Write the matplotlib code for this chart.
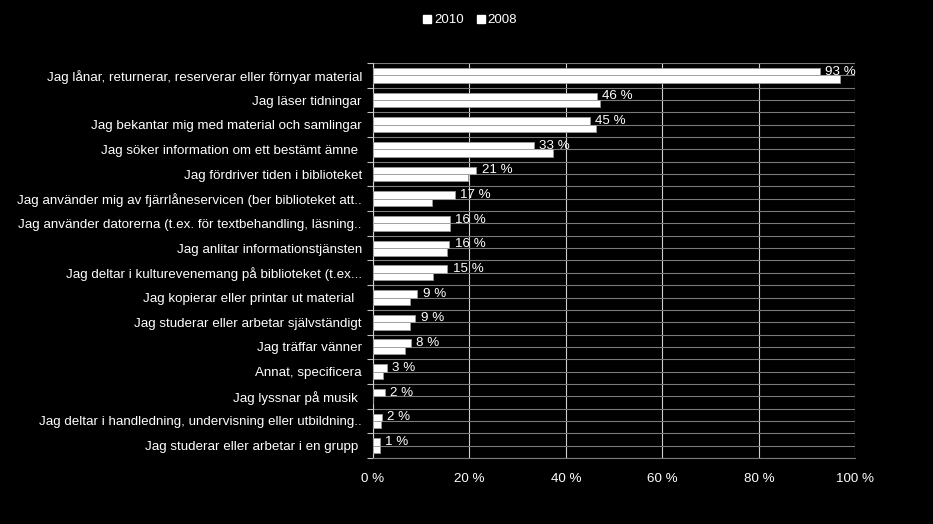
import matplotlib
matplotlib.use("Agg")
import matplotlib.pyplot as plt
from matplotlib.patches import Patch
import numpy as np

plt.rcParams['font.family'] = ['Liberation Sans', 'DejaVu Sans']

categories = [
    "Jag lånar, returnerar, reserverar eller förnyar material",
    "Jag läser tidningar",
    "Jag bekantar mig med material och samlingar",
    "Jag söker information om ett bestämt ämne ",
    "Jag fördriver tiden i biblioteket",
    "Jag använder mig av fjärrlåneservicen (ber biblioteket att..",
    "Jag använder datorerna (t.ex. för textbehandling, läsning..",
    "Jag anlitar informationstjänsten",
    "Jag deltar i kulturevenemang på biblioteket (t.ex...",
    "Jag kopierar eller printar ut material  ",
    "Jag studerar eller arbetar självständigt",
    "Jag träffar vänner",
    "Annat, specificera",
    "Jag lyssnar på musik ",
    "Jag deltar i handledning, undervisning eller utbildning..",
    "Jag studerar eller arbetar i en grupp ",
]
values_2010 = [92.7, 46.4, 44.9, 33.4, 21.4, 16.9, 16.0, 15.8, 15.4, 9.2, 8.8, 7.8, 2.8, 2.4, 1.9, 1.4]
values_2008 = [96.9, 47.1, 46.2, 37.3, 19.6, 12.2, 16.0, 15.4, 12.4, 7.7, 7.7, 6.6, 2.1, 0.0, 1.6, 1.4]
series_names = ["2010", "2008"]
x_ticks = [0, 20, 40, 60, 80, 100]

FS = 9.6

fig = plt.figure(figsize=(9.33, 5.24), dpi=100, facecolor='black')
ax = fig.add_axes([0.3998, 0.126, 0.9167 - 0.3998, 0.8798 - 0.126], facecolor='black')

n = len(categories)
pos = np.arange(n)
h = 0.3
ax.barh(pos - h / 2, values_2010, height=h, color='white', edgecolor='#9a9a9a', linewidth=0.6, zorder=3)
ax.barh(pos + h / 2, values_2008, height=h, color='white', edgecolor='#9a9a9a', linewidth=0.6, zorder=3)

for p, v in zip(pos, values_2010):
    ax.text(v + 1.1, p - h / 2, f"{round(v)} %", color='white', fontsize=FS,
            va='center', ha='left', zorder=4)

ax.set_xlim(0, 100)
ax.set_ylim(n - 0.5, -0.5)
ax.set_xticks(x_ticks)
ax.set_xticklabels([f"{t} %" for t in x_ticks])
ax.set_yticks(pos)
ax.set_yticklabels(categories)
ax.set_yticks(np.arange(-0.5, n, 1.0), minor=True)

ax.tick_params(axis='y', which='major', length=0, pad=8, colors='white', labelsize=FS)
ax.tick_params(axis='y', which='minor', length=4, color='#c0c0c0', width=0.8)
ax.tick_params(axis='x', length=0, pad=11, colors='white', labelsize=FS)

ax.set_axisbelow(True)
ax.grid(axis='y', which='both', color='#7a7a7a', linewidth=0.8)
ax.grid(axis='x', which='major', color='#d0d0d0', linewidth=0.8)

for s in ['top', 'right']:
    ax.spines[s].set_visible(False)
ax.spines['left'].set_color('#d0d0d0')
ax.spines['left'].set_linewidth(0.8)
ax.spines['bottom'].set_color('#7a7a7a')
ax.spines['bottom'].set_linewidth(0.8)

handles = [Patch(facecolor='white', edgecolor='white') for _ in series_names]
fig.legend(handles, series_names, loc='center', bbox_to_anchor=(0.504, 0.961), ncol=2,
           frameon=False, fontsize=FS, labelcolor='white', handlelength=0.6,
           handleheight=0.6, handletextpad=0.2, columnspacing=1.0)

fig.savefig("out.png", dpi=100, facecolor='black')
